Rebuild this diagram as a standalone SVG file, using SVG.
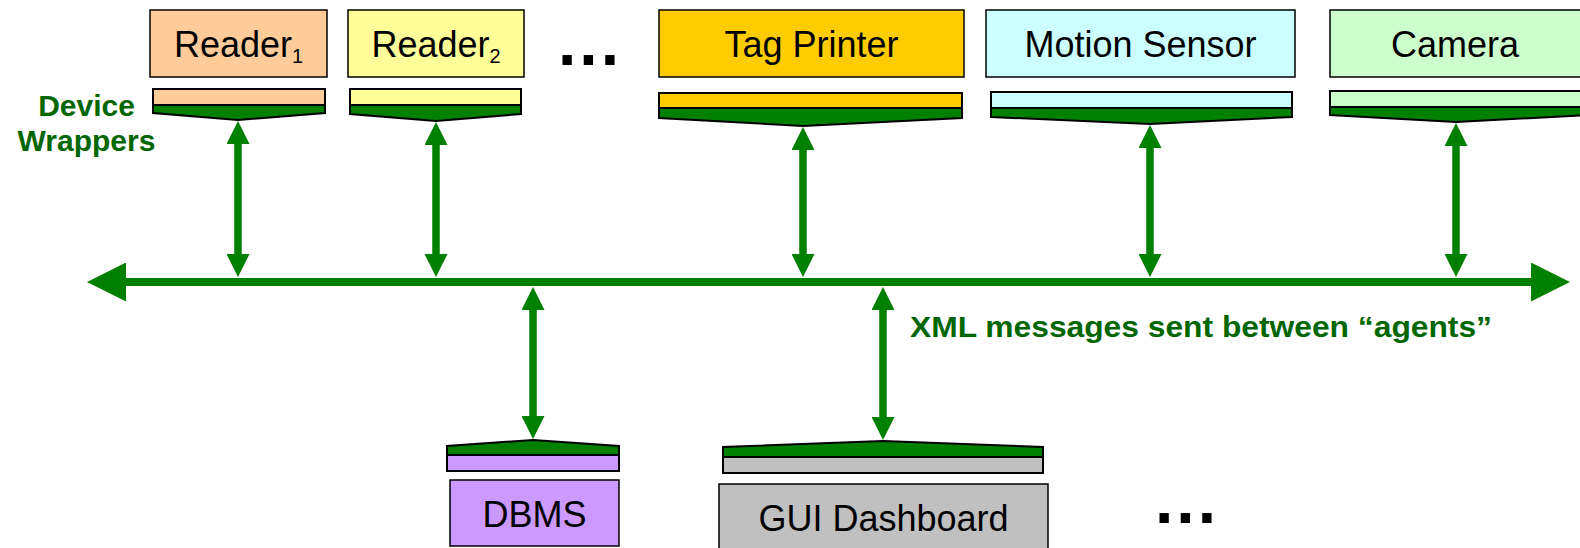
<svg xmlns="http://www.w3.org/2000/svg" width="1580" height="548" viewBox="0 0 1580 548">
<style>
.box{stroke:#000;stroke-width:1.5}
.wrap{stroke:#000;stroke-width:2;stroke-linejoin:miter}
.band{fill:#008000;stroke:#000;stroke-width:2}
.lbl{font-family:"Liberation Sans",Arial,sans-serif;font-size:36px;fill:#000;text-anchor:middle}
.note{font-family:"Liberation Sans",Arial,sans-serif;font-weight:bold;fill:#006600}
.dots{font-family:"Liberation Sans",Arial,sans-serif;font-weight:bold;font-size:66px;fill:#000;letter-spacing:3px}
.arr{stroke:#008000;stroke-width:7.5;fill:none}
.bus{stroke:#008000;stroke-width:8;fill:none}
</style>
<defs>
<marker id="ah" viewBox="0 0 23 23" refX="1" refY="11.5" markerWidth="23" markerHeight="23" markerUnits="userSpaceOnUse" orient="auto-start-reverse">
<path d="M0,0 L23,11.5 L0,23 z" fill="#008000"/>
</marker>
<marker id="bh" viewBox="0 0 39 39" refX="1" refY="19.5" markerWidth="39" markerHeight="39" markerUnits="userSpaceOnUse" orient="auto-start-reverse">
<path d="M0,0 L39,19.5 L0,39 z" fill="#008000"/>
</marker>
</defs>
<rect width="1580" height="548" fill="#fff"/>

<g id="connectors">
<line class="bus" x1="125" y1="282" x2="1532" y2="282" marker-start="url(#bh)" marker-end="url(#bh)"/>
<line class="arr" x1="238" y1="143" x2="238" y2="255" marker-start="url(#ah)" marker-end="url(#ah)"/>
<line class="arr" x1="436" y1="144" x2="436" y2="255" marker-start="url(#ah)" marker-end="url(#ah)"/>
<line class="arr" x1="803" y1="149" x2="803" y2="255" marker-start="url(#ah)" marker-end="url(#ah)"/>
<line class="arr" x1="1150" y1="147" x2="1150" y2="255" marker-start="url(#ah)" marker-end="url(#ah)"/>
<line class="arr" x1="1456" y1="145" x2="1456" y2="255" marker-start="url(#ah)" marker-end="url(#ah)"/>
<line class="arr" x1="533" y1="309" x2="533" y2="417" marker-start="url(#ah)" marker-end="url(#ah)"/>
<line class="arr" x1="883" y1="309" x2="883" y2="418" marker-start="url(#ah)" marker-end="url(#ah)"/>
</g>

<g id="reader1">
<rect class="box" x="150" y="10" width="177" height="67" fill="#FFCC99"/>
<text class="lbl" x="238.5" y="57">Reader<tspan font-size="20" dy="6">1</tspan></text>
</g>
<g id="reader1-wrapper">
<rect class="wrap" x="153" y="89" width="172" height="16" fill="#FFCC99"/>
<polygon class="band" points="153,105 325,105 325,113 238,120 153,113"/>
</g>

<g id="reader2">
<rect class="box" x="348" y="10" width="176" height="67" fill="#FFFF99"/>
<text class="lbl" x="436" y="57">Reader<tspan font-size="20" dy="6">2</tspan></text>
</g>
<g id="reader2-wrapper">
<rect class="wrap" x="350" y="89" width="171" height="16" fill="#FFFF99"/>
<polygon class="band" points="350,105 521,105 521,114 436,121 350,114"/>
</g>

<g id="dots-top"><text class="dots" x="558" y="65">...</text></g>

<g id="tag-printer">
<rect class="box" x="659" y="10" width="305" height="67" fill="#FFCC00"/>
<text class="lbl" x="811.5" y="57">Tag Printer</text>
</g>
<g id="tag-printer-wrapper">
<rect class="wrap" x="659" y="93" width="303" height="15" fill="#FFCC00"/>
<polygon class="band" points="659,108 962,108 962,118 803,126 659,118"/>
</g>

<g id="motion-sensor">
<rect class="box" x="986" y="10" width="309" height="67" fill="#CCFFFF"/>
<text class="lbl" x="1140.5" y="57">Motion Sensor</text>
</g>
<g id="motion-sensor-wrapper">
<rect class="wrap" x="991" y="92" width="301" height="16" fill="#CCFFFF"/>
<polygon class="band" points="991,108 1292,108 1292,117 1150,124 991,117"/>
</g>

<g id="camera">
<rect class="box" x="1330" y="10" width="251" height="67" fill="#CCFFCC"/>
<text class="lbl" x="1455" y="57">Camera</text>
</g>
<g id="camera-wrapper">
<rect class="wrap" x="1330" y="91" width="260" height="16" fill="#CCFFCC"/>
<polygon class="band" points="1330,107 1590,107 1590,115 1456,122 1330,115"/>
</g>

<g id="device-wrappers-label">
<text class="note" font-size="30" text-anchor="middle"><tspan x="86.5" y="116">Device</tspan><tspan x="86.5" y="151">Wrappers</tspan></text>
</g>

<g id="xml-label">
<text class="note" font-size="29" x="910" y="337" textLength="582" lengthAdjust="spacingAndGlyphs">XML messages sent between “agents”</text>
</g>

<g id="dbms-wrapper">
<polygon class="band" points="447,455 619,455 619,446 533,440 447,446"/>
<rect class="wrap" x="447" y="455" width="172" height="16" fill="#CC99FF"/>
</g>
<g id="dbms">
<rect class="box" x="450" y="480" width="169" height="66" fill="#CC99FF"/>
<text class="lbl" x="534.5" y="527">DBMS</text>
</g>

<g id="gui-wrapper">
<polygon class="band" points="723,457 1043,457 1043,447 883,441 723,447"/>
<rect class="wrap" x="723" y="457" width="320" height="16" fill="#C0C0C0"/>
</g>
<g id="gui-dashboard">
<rect class="box" x="719" y="484" width="329" height="70" fill="#C0C0C0"/>
<text class="lbl" x="883.5" y="531">GUI Dashboard</text>
</g>

<g id="dots-bottom"><text class="dots" x="1155" y="523">...</text></g>
</svg>
